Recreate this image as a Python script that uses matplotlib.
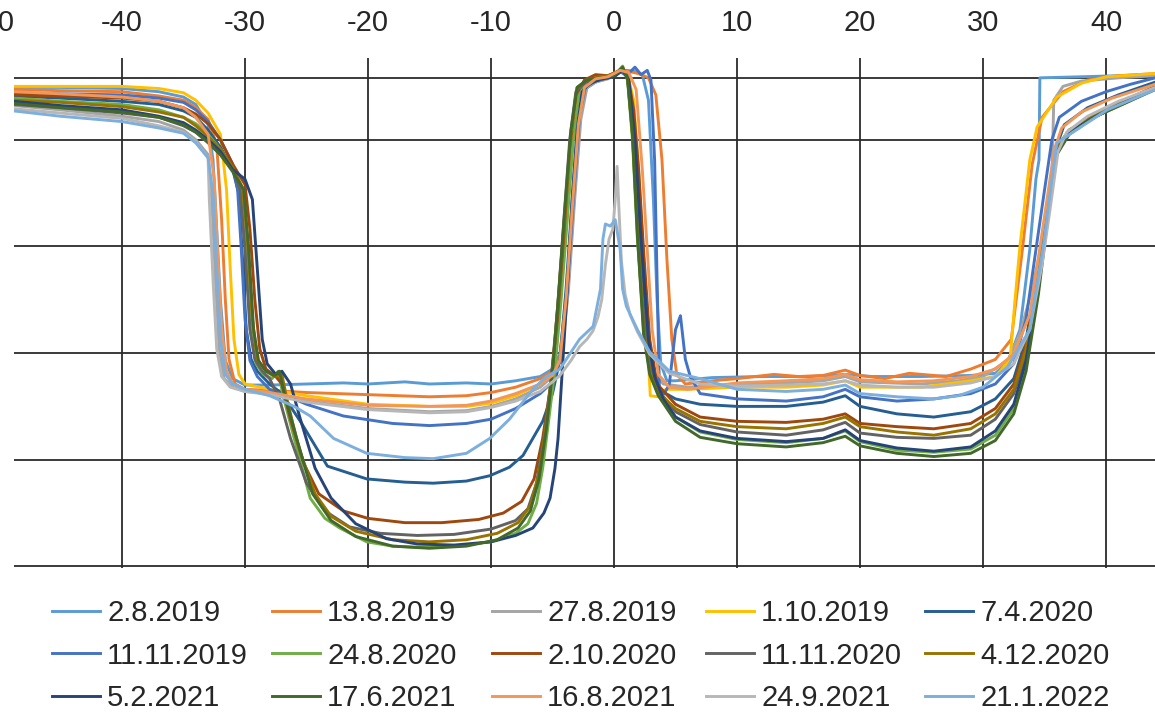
import numpy as np
import matplotlib
matplotlib.use("Agg")
import matplotlib.pyplot as plt

plt.rcParams['font.family'] = ['Liberation Sans', 'DejaVu Sans']

# series in legend order (row by row), with their colours
dates = ["2.8.2019", "13.8.2019", "27.8.2019", "1.10.2019", "7.4.2020",
         "11.11.2019", "24.8.2020", "2.10.2020", "11.11.2020", "4.12.2020",
         "5.2.2021", "17.6.2021", "16.8.2021", "24.9.2021", "21.1.2022"]
colors = ["#5B9BD5", "#ED7D31", "#A5A5A5", "#FFC000", "#255E91",
          "#4472C4", "#70AD47", "#9E480E", "#636363", "#997300",
          "#264478", "#43682B", "#F1975A", "#B7B7B7", "#7CAFDD"]

# (x, y), y axis reversed
p_2_8_2019 = [(-48.8,-4.9),(-45,-4.9),(-40,-4.8),(-37,-4.5),(-35,-4.0),(-34,-3.3),(-33,-1.4),(-32.6,1.9),(-32.3,8.4),(-32.0,15.0),(-31.6,20.7),(-31.0,22.4),(-30,23.0),(-28,23.0),(-25,22.9),(-22,22.8),(-20,22.9),(-17,22.7),(-15,22.9),(-12,22.8),(-10,22.9),(-8,22.6),(-6,22.2),(-5,21.5),(-4.4,20.1),(-3.9,15.0),(-3.4,6.5),(-2.9,-0.9),(-2.4,-4.7),(-1.5,-5.4),(-0.5,-5.8),(0.4,-6.4),(1.0,-6.5),(1.7,-6.4),(2.3,-6.1),(2.8,-3.7),(3.2,5.6),(3.5,15.0),(3.8,21.0),(4.3,22.6),(5,22.6),(8,22.3),(12,22.2),(16,22.2),(18.8,22.0),(21,22.2),(25,22.2),(29,22.1),(31,21.9),(32,20.9),(33,17.8),(33.8,10.3),(34.3,3.7),(34.55,1.9),(34.62,-5.8),(38,-5.9),(44,-6.1)]
p_13_8_2019 = [(-48.8,-4.7),(-45,-4.6),(-40,-4.5),(-37,-4.1),(-35,-3.7),(-34,-3.0),(-33,-1.9),(-32.3,0.5),(-31.9,7.5),(-31.6,15.0),(-31.3,20.6),(-30.8,22.9),(-30,23.4),(-28,23.5),(-25,23.7),(-20,23.9),(-15,24.1),(-12,24.0),(-10,23.7),(-8,23.2),(-6,22.4),(-5,21.7),(-4.4,20.4),(-3.8,15.0),(-3.3,6.5),(-2.8,-1.9),(-2.2,-5.1),(-1.5,-6.0),(-0.5,-6.0),(0.5,-6.5),(1.2,-6.4),(2.0,-6.2),(2.8,-5.8),(3.4,-4.2),(3.9,1.9),(4.3,11.2),(4.7,18.7),(5.1,22.0),(5.8,22.9),(8,22.6),(10,22.4),(13,22.0),(15,22.2),(17,22.1),(18.8,21.6),(20,22.1),(22,22.4),(24,21.9),(27,22.2),(29,21.5),(31,20.6),(32.3,18.7),(33.2,10.3),(34,2.3),(34.8,-2.1),(36.5,-4.5),(38.5,-5.6),(41,-6.0),(44,-6.2)]
p_27_8_2019 = [(-48.8,-3.2),(-45,-2.8),(-40,-2.2),(-37,-1.7),(-35,-0.9),(-34,0.0),(-33,1.4),(-32.7,5.6),(-32.4,13.1),(-32.1,19.6),(-31.7,22.4),(-31,23.2),(-30,23.6),(-28,23.8),(-25,24.5),(-20,25.2),(-15,25.5),(-12,25.4),(-10,25.0),(-8,24.3),(-6,23.2),(-5,22.2),(-4.3,20.6),(-3.7,14.0),(-3.2,5.6),(-2.7,-1.9),(-2.2,-4.9),(-1.5,-5.4),(-0.5,-5.7),(0.5,-6.4),(1.0,-6.2),(1.4,-4.2),(1.8,1.9),(2.2,10.3),(2.7,17.8),(3.2,21.7),(4,22.9),(6,23.2),(10,22.9),(14,22.8),(17,22.6),(18.8,22.2),(20,22.7),(25,22.9),(28,22.6),(30,22.2),(32,20.7),(33,18.2),(34,14.0),(35,8.4),(35.6,3.7),(35.75,-3.7),(36.5,-5.0),(38,-5.5),(41,-5.8),(44,-6.0)]
p_1_10_2019 = [(-48.8,-5.0),(-45,-5.0),(-40,-5.0),(-37,-4.8),(-35,-4.4),(-34,-3.7),(-33,-2.5),(-32,-0.5),(-31.5,4.7),(-31.2,12.1),(-30.9,18.7),(-30.5,22.0),(-30,22.9),(-28,23.4),(-25,24.0),(-20,24.8),(-15,25.0),(-12,25.0),(-10,24.7),(-8,24.0),(-6,22.9),(-5,22.0),(-4.4,20.6),(-3.9,15.0),(-3.4,6.5),(-2.9,-1.4),(-2.4,-4.9),(-1.5,-5.6),(-0.5,-5.8),(0.5,-6.4),(1.1,-6.2),(1.6,-3.7),(2.0,2.8),(2.4,11.2),(2.7,18.7),(2.95,24.0),(3.6,24.1),(4.2,23.4),(6,23.4),(10,23.2),(14,23.2),(17,23.0),(18.8,22.6),(20,23.2),(25,23.2),(29,22.6),(31,22.2),(32.2,20.6),(32.6,15.0),(33,10.0),(33.8,1.9),(34.4,-1.2),(36,-4.0),(38,-5.3),(40,-5.9),(44,-6.2)]
p_7_4_2020 = [(-48.8,-4.1),(-45,-3.9),(-40,-3.6),(-37,-3.3),(-35,-2.7),(-34,-2.1),(-33,-0.9),(-32,0.7),(-31,2.8),(-30.5,5.1),(-30.2,11.2),(-29.9,17.8),(-29.5,20.6),(-29,21.7),(-28,22.9),(-27,23.8),(-25.5,26.4),(-23.3,30.6),(-20.1,31.8),(-17,32.1),(-14.7,32.2),(-12,32.0),(-10.1,31.5),(-8.5,30.7),(-7.4,29.6),(-5.8,26.4),(-5.0,23.8),(-4.4,20.6),(-3.9,14.0),(-3.4,5.6),(-2.9,-1.9),(-2.4,-4.9),(-1.5,-5.5),(-0.5,-5.8),(0.5,-6.5),(1.0,-6.2),(1.5,-2.8),(2.0,5.6),(2.5,15.0),(3.0,21.0),(3.6,23.4),(5,24.3),(7,24.8),(10,25.0),(14,25.0),(17,24.6),(18.8,24.0),(20,25.0),(23,25.7),(26,26.0),(29,25.5),(31,24.3),(32.5,22.4),(33.5,18.7),(34.5,12.1),(35.3,5.6),(35.9,0.9),(36.6,-1.4),(38.5,-3.0),(41,-4.2),(44,-5.4)]
p_11_11_2019 = [(-48.8,-4.4),(-45,-4.3),(-40,-4.2),(-37,-3.9),(-35,-3.5),(-34,-2.8),(-33,-1.7),(-32,0.0),(-31,2.3),(-30.6,4.7),(-30.3,10.3),(-30.0,16.8),(-29.6,20.7),(-29,22.2),(-28,23.4),(-26,24.3),(-25,24.8),(-22,25.9),(-18,26.6),(-15,26.8),(-12,26.6),(-10,26.2),(-8,25.2),(-6,23.8),(-5,22.7),(-4.4,20.7),(-3.8,14.0),(-3.3,5.6),(-2.8,-2.3),(-2.3,-5.1),(-1.5,-5.6),(-0.5,-5.8),(0.5,-6.4),(1.0,-6.0),(1.7,-6.8),(2.2,-6.1),(2.7,-6.5),(3.0,-5.6),(3.3,1.9),(3.5,13.1),(3.7,24.0),(4.1,23.8),(4.5,22.9),(5.0,17.8),(5.4,16.5),(5.8,20.6),(6.2,22.2),(7,23.8),(10,24.3),(14,24.5),(17,24.1),(18.8,23.4),(20,24.1),(23,24.5),(26,24.3),(29,23.8),(31,22.9),(32.5,21.0),(33.5,16.8),(34.3,10.3),(35,4.7),(35.6,0.0),(36.2,-2.1),(38,-3.6),(40,-4.5),(42,-5.2),(44,-5.8)]
p_24_8_2020 = [(-48.8,-3.9),(-45,-3.6),(-40,-3.3),(-37,-2.8),(-35,-2.1),(-34,-1.5),(-33,-0.5),(-32,0.9),(-31,2.6),(-30.3,4.7),(-29.9,10.3),(-29.5,17.8),(-29.1,21.0),(-28.5,22.0),(-27.8,22.4),(-27.3,21.7),(-26.9,24.0),(-26,28.0),(-24.7,33.6),(-23.5,35.5),(-22.3,36.4),(-20.1,37.7),(-18,38.1),(-16,38.2),(-13,38.1),(-10,37.7),(-8,36.9),(-7,36.0),(-6.3,34.1),(-5.8,30.8),(-5.3,26.2),(-4.8,21.5),(-4.3,15.0),(-3.8,7.5),(-3.3,0.0),(-2.8,-4.7),(-2.0,-5.4),(-1,-5.7),(0,-6.0),(0.7,-6.9),(1.1,-5.6),(1.5,0.0),(1.9,9.3),(2.5,18.7),(3.0,22.2),(3.6,23.8),(5,26.0),(7,27.4),(10,28.1),(14,28.4),(17,28.0),(18.8,27.3),(20,28.3),(23,29.1),(26,29.3),(29,29.0),(31,27.7),(32.5,25.2),(33.5,21.3),(34.5,14.0),(35.3,6.8),(36,1.2),(37,-0.6),(39,-2.1),(41.5,-3.4),(44,-4.8)]
p_2_10_2020 = [(-48.8,-4.2),(-45,-4.1),(-40,-3.9),(-37,-3.6),(-35,-3.0),(-34,-2.4),(-33,-1.5),(-32,0.0),(-31,2.3),(-30,4.2),(-29.6,8.4),(-29.2,15.0),(-28.8,19.6),(-28.3,21.5),(-27.5,22.2),(-27,22.9),(-26.3,26.2),(-25.2,30.4),(-24,33.2),(-22,34.8),(-20,35.5),(-17,35.9),(-14,35.9),(-11,35.6),(-9,35.0),(-7.5,33.9),(-6.5,31.8),(-5.8,28.0),(-5.2,23.4),(-4.6,16.8),(-4.1,9.3),(-3.6,0.9),(-3.1,-4.2),(-2.4,-5.6),(-1.5,-6.1),(-0.5,-6.0),(0.5,-6.5),(1.1,-6.2),(1.6,-2.8),(2.0,2.8),(2.4,10.3),(2.9,18.7),(3.5,22.9),(5,24.8),(7,26.0),(10,26.4),(14,26.5),(17,26.2),(18.8,25.7),(20,26.6),(23,26.9),(26,27.1),(29,26.6),(31,25.2),(32.5,22.9),(33.5,19.2),(34.5,12.1),(35.3,5.6),(36,0.9),(37,-0.9),(39,-2.3),(41.5,-3.7),(44,-5.0)]
p_11_11_2020 = [(-48.8,-3.3),(-45,-3.0),(-40,-2.5),(-37,-2.1),(-35,-1.3),(-34,-0.7),(-33,0.3),(-32,1.4),(-31,2.8),(-30.4,4.7),(-30.0,10.3),(-29.6,17.8),(-29.2,20.6),(-28.6,21.7),(-28,22.4),(-27.2,24.3),(-26.3,28.0),(-25,32.2),(-23.5,34.8),(-21.5,36.3),(-19,36.9),(-16,37.1),(-13,37.0),(-10,36.5),(-8,35.7),(-7,34.6),(-6.3,32.2),(-5.7,28.0),(-5.1,22.4),(-4.6,15.9),(-4.1,7.9),(-3.6,0.0),(-3.1,-4.5),(-2.3,-5.4),(-1,-5.7),(0,-5.9),(0.7,-6.6),(1.1,-6.0),(1.5,-1.9),(1.9,6.5),(2.3,15.0),(2.8,20.6),(3.4,23.2),(5,25.5),(7,26.7),(10,27.4),(14,27.7),(17,27.2),(18.8,26.5),(20,27.5),(23,27.9),(26,28.0),(29,27.7),(31,26.2),(32.5,23.8),(33.5,20.1),(34.5,13.1),(35.3,6.4),(36,0.9),(37,-0.7),(39,-2.1),(41.5,-3.5),(44,-4.8)]
p_4_12_2020 = [(-48.8,-3.7),(-45,-3.5),(-40,-3.1),(-37,-2.6),(-35,-2.1),(-34,-1.3),(-33,-0.3),(-32,0.9),(-31,2.6),(-30.2,4.5),(-29.8,9.3),(-29.4,16.8),(-29.0,20.6),(-28.3,21.7),(-27.6,22.2),(-27.0,22.0),(-26.6,24.3),(-25.6,29.0),(-24.3,33.2),(-23,35.3),(-21,36.7),(-18,37.5),(-15,37.7),(-12,37.5),(-9.5,36.9),(-7.8,35.9),(-6.8,34.3),(-6.1,31.3),(-5.5,26.6),(-5.0,21.5),(-4.5,14.5),(-4.0,7.0),(-3.5,-0.5),(-3.0,-4.9),(-2.2,-5.6),(-1.2,-5.9),(0,-6.1),(0.7,-6.7),(1.1,-5.8),(1.5,-0.5),(1.9,8.4),(2.4,17.8),(2.9,21.7),(3.5,23.6),(5,25.2),(7,26.4),(10,26.9),(14,27.1),(17,26.6),(18.8,26.0),(20,26.9),(23,27.4),(26,27.7),(29,27.1),(31,25.7),(32.5,23.4),(33.5,19.6),(34.5,12.6),(35.3,6.1),(36,0.7),(37,-0.9),(39,-2.3),(41.5,-3.6),(44,-4.9)]
p_5_2_2021 = [(-48.8,-3.6),(-45,-3.2),(-40,-2.8),(-37,-2.2),(-35,-1.6),(-34,-0.9),(-33,0.0),(-32,1.1),(-31,2.8),(-30,3.7),(-29.4,5.6),(-29.0,12.1),(-28.6,18.7),(-28.2,21.0),(-27.5,22.0),(-27,21.7),(-26.3,22.9),(-25.5,26.2),(-24.3,30.8),(-23,33.6),(-21,36.0),(-18.5,37.4),(-16,37.9),(-13,38.0),(-10,37.7),(-8,37.1),(-6.6,36.4),(-5.7,35.0),(-5.2,33.6),(-4.8,30.8),(-4.55,28.0),(-4.2,21.5),(-3.8,14.0),(-3.4,5.6),(-3.0,-0.9),(-2.6,-4.5),(-2.0,-5.3),(-1,-5.7),(0,-5.9),(0.7,-6.5),(1.2,-5.6),(1.7,0.0),(2.2,9.3),(2.8,18.7),(3.3,22.2),(4,24.3),(5,26.0),(7,27.3),(10,28.0),(14,28.3),(17,28.0),(18.8,27.2),(20,28.2),(23,28.9),(26,29.2),(29,28.8),(31,27.3),(32.5,24.8),(33.5,20.7),(34.5,13.6),(35.3,6.5),(36,1.1),(37,-0.7),(39,-2.1),(41.5,-3.5),(44,-4.9)]
p_17_6_2021 = [(-48.8,-3.4),(-45,-3.0),(-40,-2.6),(-37,-2.1),(-35,-1.4),(-34,-0.7),(-33,0.2),(-32,1.4),(-31,3.0),(-30.1,4.7),(-29.7,10.3),(-29.3,17.8),(-28.9,20.7),(-28.3,21.7),(-27.6,22.1),(-27.2,21.7),(-26.8,23.8),(-25.8,28.0),(-24.5,33.2),(-23,35.7),(-21,37.2),(-18,38.1),(-15,38.3),(-12,38.1),(-9.5,37.5),(-7.8,36.4),(-6.8,34.8),(-6.1,31.8),(-5.5,27.1),(-5.0,21.7),(-4.5,14.5),(-4.0,6.5),(-3.5,-0.9),(-3.0,-4.9),(-2.2,-5.6),(-1.2,-5.8),(0,-6.0),(0.7,-6.8),(1.1,-5.7),(1.5,-0.5),(1.9,8.9),(2.4,18.2),(2.9,22.0),(3.6,24.0),(5,26.4),(7,27.9),(10,28.5),(14,28.8),(17,28.4),(18.8,27.8),(20,28.7),(23,29.4),(26,29.7),(29,29.4),(31,28.2),(32.5,25.7),(33.5,21.7),(34.5,14.5),(35.3,7.0),(36,1.4),(37,-0.5),(39,-2.1),(41.5,-3.4),(44,-4.7)]
p_16_8_2021 = [(-48.8,-4.5),(-45,-4.3),(-40,-4.0),(-37,-3.6),(-35,-3.0),(-34,-2.1),(-33,-0.5),(-32.5,3.7),(-32.2,11.2),(-31.9,17.8),(-31.5,21.7),(-31,22.9),(-30,23.4),(-28,23.7),(-25,24.3),(-20,24.9),(-15,25.0),(-12,24.9),(-10,24.5),(-8,23.8),(-6,22.9),(-5,22.1),(-4.4,20.7),(-3.9,15.0),(-3.4,6.5),(-2.9,-1.4),(-2.4,-4.9),(-1.5,-5.7),(-0.5,-5.9),(0.5,-6.5),(1.2,-6.3),(1.8,-4.7),(2.3,2.8),(2.7,10.3),(3.1,17.8),(3.6,22.0),(4.5,23.2),(6,23.4),(10,22.8),(14,22.6),(17,22.4),(18.8,22.0),(20,22.5),(23,22.7),(26,22.6),(29,22.2),(31,21.5),(32.5,20.1),(33.8,16.4),(34.6,10.3),(35.2,5.6),(35.8,0.9),(36.4,-1.1),(38,-2.6),(40.5,-3.9),(44,-5.2)]
p_24_9_2021 = [(-48.8,-2.9),(-45,-2.5),(-40,-2.0),(-37,-1.3),(-35,-0.7),(-34,0.2),(-33,1.7),(-32.9,5.6),(-32.6,13.1),(-32.3,19.6),(-31.9,22.2),(-31.2,23.2),(-30,23.6),(-28,23.9),(-25,24.6),(-20,25.3),(-15,25.6),(-12,25.5),(-10,25.1),(-8,24.5),(-6,23.6),(-5,22.7),(-4.4,22.1),(-3.5,20.7),(-2.8,19.4),(-2.2,18.7),(-1.7,17.9),(-1.3,16.6),(-1.0,15.0),(-0.7,11.7),(-0.4,9.3),(-0.1,8.4),(0.1,5.6),(0.25,2.5),(0.4,6.5),(0.6,11.4),(0.9,14.5),(1.3,16.4),(1.9,18.0),(2.9,20.1),(4.5,21.9),(7,22.9),(10,23.1),(14,23.0),(17,22.9),(18.8,22.6),(20,23.0),(23,23.2),(26,23.2),(29,22.8),(31,22.2),(32.5,21.0),(33.8,17.8),(34.8,11.7),(35.5,6.1),(36.1,1.1),(36.8,-0.7),(38.5,-2.2),(41,-3.6),(44,-4.9)]
p_21_1_2022 = [(-48.8,-2.7),(-45,-2.2),(-40,-1.7),(-37,-1.1),(-35,-0.6),(-34,0.3),(-33,1.7),(-32.6,5.1),(-32.3,12.1),(-32.0,18.7),(-31.6,22.0),(-31,22.9),(-30,23.4),(-28,24.0),(-26,25.0),(-24.7,25.9),(-22.8,28.0),(-20.1,29.4),(-17,29.8),(-14.7,29.9),(-12,29.4),(-10.1,28.0),(-8.5,26.2),(-6.6,23.4),(-5.5,22.2),(-4.4,21.5),(-2.8,18.7),(-1.7,17.5),(-1.1,14.0),(-0.9,9.3),(-0.7,7.9),(-0.3,8.1),(0.1,7.5),(0.5,10.3),(0.7,14.0),(1.0,15.6),(1.9,17.8),(2.9,19.9),(4.5,21.7),(7,22.4),(10,23.4),(14,23.6),(17,23.4),(18.8,23.0),(20,23.8),(23,24.1),(26,24.3),(28,24.0),(30,23.2),(32,21.3),(33.8,17.8),(34.9,10.0),(35.6,3.7),(36,0.3),(37.3,-0.7),(40.1,-2.8),(44,-4.7)]

series = [p_2_8_2019, p_13_8_2019, p_27_8_2019, p_1_10_2019, p_7_4_2020,
          p_11_11_2019, p_24_8_2020, p_2_10_2020, p_11_11_2020, p_4_12_2020,
          p_5_2_2021, p_17_6_2021, p_16_8_2021, p_24_9_2021, p_21_1_2022]

x_ticks = [-50, -40, -30, -20, -10, 0, 10, 20, 30, 40]
y_grid = [0, 10, 20, 30, 40]
axis_line = -5.8   # where the horizontal axis crosses

W, H = 1155, 713
fig = plt.figure(figsize=(W / 100, H / 100), dpi=100)
ax = fig.add_axes([14 / W, 1 - 568 / H, 1 - 14 / W, (568 - 58) / H])

handles = []
for pts, name, col in zip(series, dates, colors):
    a = np.array(pts)
    h, = ax.plot(a[:, 0], a[:, 1], color=col, lw=2.1, label=name, zorder=3)
    handles.append(h)

ax.set_xlim(-48.78, 43.98)
ax.set_ylim(40.15, -7.66)

grid_kw = dict(color='#2b2b2b', lw=1.3, zorder=1)
for xv in x_ticks[1:]:
    ax.axvline(xv, **grid_kw)
for yv in y_grid:
    ax.axhline(yv, **grid_kw)
ax.axhline(axis_line, **grid_kw)

ax.xaxis.tick_top()
ax.set_xticks(x_ticks[1:])
ax.set_xticklabels([str(v) for v in x_ticks[1:]])
ax.tick_params(axis='x', length=0, pad=15, labelsize=21, labelcolor='#262626')
ax.set_yticks([])
for s in ax.spines.values():
    s.set_visible(False)
# the -50 label, cut by the figure edge as in the source
ax.annotate(str(x_ticks[0]), xy=(x_ticks[0], 1), xycoords=('data', 'axes fraction'),
            xytext=(-4, 15), textcoords='offset points', ha='center', va='bottom',
            fontsize=21, color='#262626', annotation_clip=False)

# legend: 5 columns, filled row by row
col_x = [52, 272, 492, 706, 925]
for j in range(5):
    hs = [handles[j + 5 * r] for r in range(3)]
    fig.legend(hs, [h.get_label() for h in hs], loc='upper left',
               bbox_to_anchor=(col_x[j] / W, 1 - 599 / H), frameon=False,
               fontsize=21, handlelength=1.65, handletextpad=0.24,
               borderpad=0, borderaxespad=0, labelspacing=0.5,
               labelcolor='#262626')

fig.savefig("out.png", dpi=100)
